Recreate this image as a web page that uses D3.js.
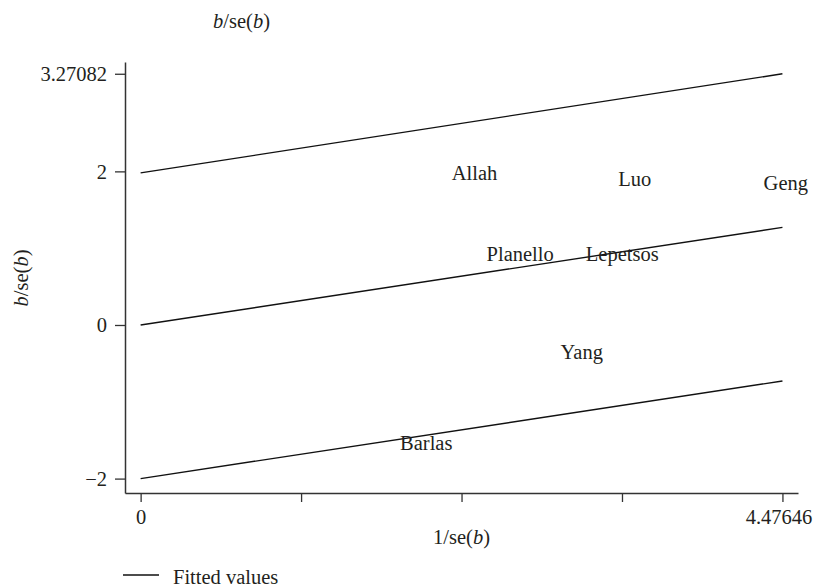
<!DOCTYPE html>
<html>
<head>
<meta charset="utf-8">
<script src="https://cdn.jsdelivr.net/npm/d3@7"></script>
<style>
  html, body { margin: 0; padding: 0; background: #fff; }
  svg text { font-family: "Liberation Serif", "DejaVu Serif", serif; fill: #231f20; }
</style>
</head>
<body>
<svg id="chart" width="818" height="586"></svg>
<script>
// ---- data ----
const studies = ["Allah", "Luo", "Geng", "Planello", "Lepetsos", "Yang", "Barlas"];
const invSE   = [2.329, 3.447, 4.50, 2.647, 3.359, 3.077, 1.992];   // 1/se(b)
const zStat   = [1.979, 1.897, 1.840, 0.924, 0.924, -0.352, -1.546]; // b/se(b)

const fitX      = [0, 4.47646];
const fitUpper  = [1.98, 3.27082];
const fitMiddle = [0, 1.27082];
const fitLower  = [-2, -0.72918];

const yTickValues = [-2, 0, 2, 3.27082];
const yTickLabels = ["\u22122", "0", "2", "3.27082"];
const xTickValues = [0, 1.119115, 2.23823, 3.357345, 4.47646];
const xTickLabels = ["0", "", "", "", "4.47646"];
const legendLabel = "Fitted values";

// ---- layout ----
const svg = d3.select("#chart");
const frame = { left: 125, right: 798, top: 62, bottom: 493 };
const x = d3.scaleLinear().domain([-0.109, 4.585]).range([frame.left, frame.right]);
const y = d3.scaleLinear().domain([-2.1875, 3.424]).range([frame.bottom, frame.top]);
const fontSize = 20.5;
const ink = "#231f20";

// fitted lines
const line = d3.line().x(d => x(d[0])).y(d => y(d[1]));
[fitUpper, fitMiddle, fitLower].forEach(ys => {
  svg.append("path")
    .datum(fitX.map((v, i) => [v, ys[i]]))
    .attr("d", line)
    .attr("fill", "none")
    .attr("stroke", "#111")
    .attr("stroke-width", 1.4);
});

// study labels
svg.append("g").selectAll("text")
  .data(studies)
  .join("text")
  .attr("x", (d, i) => x(invSE[i]))
  .attr("y", (d, i) => y(zStat[i]))
  .attr("dy", "0.32em")
  .attr("text-anchor", "middle")
  .attr("font-size", fontSize)
  .text(d => d);

// y axis
const yAxis = d3.axisLeft(y)
  .tickValues(yTickValues)
  .tickFormat((d, i) => yTickLabels[i])
  .tickSize(10).tickSizeOuter(0).tickPadding(8);
const gy = svg.append("g").attr("transform", `translate(${frame.left},0)`).call(yAxis);
gy.select(".domain").attr("stroke", "#333").attr("stroke-width", 1.5);
gy.selectAll(".tick line").attr("stroke", "#333").attr("stroke-width", 1.3);
gy.selectAll(".tick text").attr("font-size", fontSize).attr("font-family", null)
  .attr("fill", ink).attr("dy", "0.33em");

// x axis
const xAxis = d3.axisBottom(x)
  .tickValues(xTickValues)
  .tickFormat((d, i) => xTickLabels[i])
  .tickSize(9).tickSizeOuter(0).tickPadding(10);
const gx = svg.append("g").attr("transform", `translate(0,${frame.bottom})`).call(xAxis);
gx.select(".domain").attr("stroke", "#333").attr("stroke-width", 1.5);
gx.selectAll(".tick line").attr("stroke", "#333").attr("stroke-width", 1.3);
gx.selectAll(".tick text").attr("font-size", fontSize).attr("font-family", null)
  .attr("fill", ink).attr("y", 31).attr("dy", 0)
  .attr("dx", (d, i) => i === xTickValues.length - 1 ? -4 : 0);

// axis titles (with italic b)
function bTitle(sel) {
  sel.append("tspan").attr("font-style", "italic").text("b");
  sel.append("tspan").text("/se(");
  sel.append("tspan").attr("font-style", "italic").text("b");
  sel.append("tspan").text(")");
}
const topTitle = svg.append("text").attr("x", 241.5).attr("y", 28)
  .attr("text-anchor", "middle").attr("font-size", fontSize);
bTitle(topTitle);

const yTitle = svg.append("text").attr("transform", "translate(28,278) rotate(-90)")
  .attr("text-anchor", "middle").attr("font-size", fontSize);
bTitle(yTitle);

const xTitle = svg.append("text").attr("x", x(xTickValues[2])).attr("y", 544)
  .attr("text-anchor", "middle").attr("font-size", fontSize);
xTitle.append("tspan").text("1/se(");
xTitle.append("tspan").attr("font-style", "italic").text("b");
xTitle.append("tspan").text(")");

// legend
const lg = svg.append("g");
lg.append("line").attr("x1", 123).attr("x2", 159).attr("y1", 575).attr("y2", 575)
  .attr("stroke", "#111").attr("stroke-width", 1.4);
lg.append("text").attr("x", 173).attr("y", 583.5).attr("font-size", fontSize).text(legendLabel);
</script>
</body>
</html>
